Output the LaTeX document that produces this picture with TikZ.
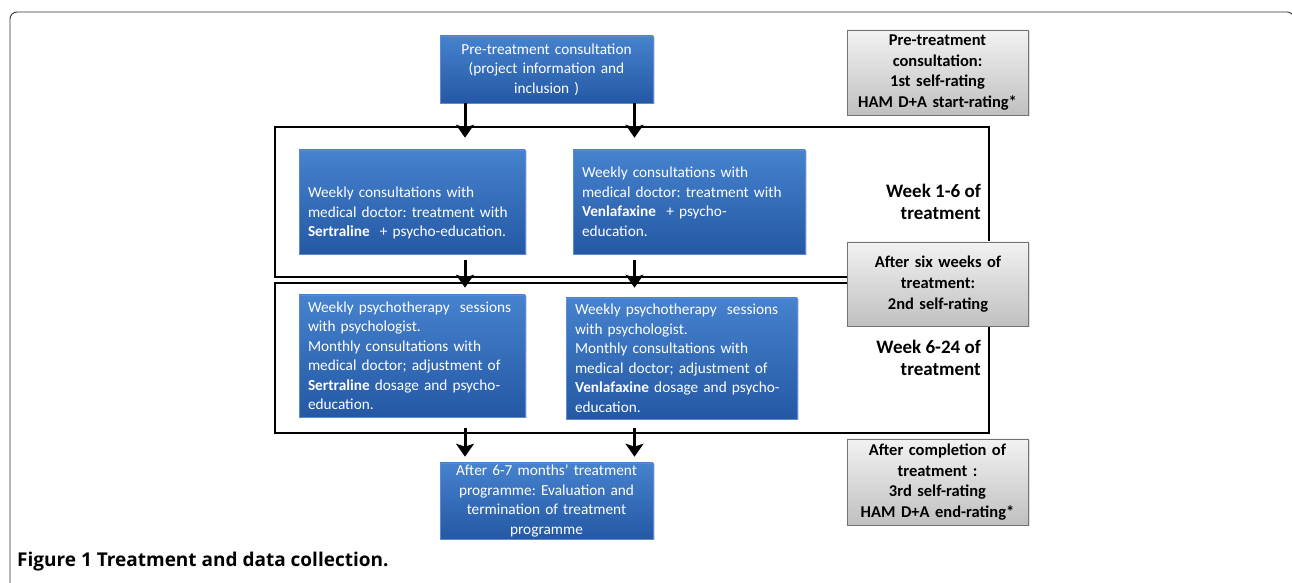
\documentclass[tikz,border=0pt]{standalone}
\usepackage{fontspec}
\setmainfont{Carlito}
\newfontfamily\captionfont{Open Sans}
\usepackage{tikz}
\usetikzlibrary{arrows.meta, shadows}
\definecolor{blueTop}{RGB}{70,130,206}
\definecolor{blueBot}{RGB}{36,88,164}
\definecolor{blueEdge}{RGB}{92,140,205}
\definecolor{grayTop}{RGB}{242,242,242}
\definecolor{grayBot}{RGB}{192,192,192}
\definecolor{grayEdge}{RGB}{115,115,115}
\frenchspacing
\tikzset{bluebox/.style={draw=blueEdge, line width=0.6pt, top color=blueTop, bottom color=blueBot, text=white,
            font=\fontsize{15.3}{19.5}\selectfont, inner xsep=9pt, inner ysep=1pt,
            drop shadow={opacity=0.3, shadow xshift=1.5pt, shadow yshift=-1.5pt}},
         graybox/.style={draw=grayEdge, line width=0.8pt, top color=grayTop, bottom color=grayBot, text=black,
            font=\bfseries\fontsize{16.5}{20.7}\selectfont, align=center, text width=175pt, inner xsep=3pt, inner ysep=1pt,
            drop shadow={opacity=0.25, shadow xshift=1.5pt, shadow yshift=-1.5pt}},
         phasebox/.style={draw=black, line width=1.8pt, minimum width=714pt, minimum height=150pt},
         weeklabel/.style={font=\bfseries\fontsize{19}{22}\selectfont, align=right, inner sep=0pt, anchor=east},
         flowarrow/.style={line width=3pt, -{Stealth[length=13pt, width=18pt, inset=3pt]}}}
\begin{document}
\begin{tikzpicture}[x=1pt,y=1pt]
                      \useasboundingbox (0,0) rectangle (1292,583);
                      \begin{scope}
                      \clip (0,0) rectangle (1292,583);
                      \draw[black!80, line width=0.9pt, rounded corners=7pt] (10,-40) rectangle (1294,571);
                      \end{scope}

                      \node[phasebox] (phaseone) at (632,381) {};
                      \node[phasebox] (phasetwo) at (632,225) {};

                      \node[graybox, minimum height=85pt] (ratingone) at (937.5,510.5) {Pre-treatment\\consultation:\\1st self-rating\\HAM D+A start-rating*};
                      \node[graybox, minimum height=84pt] (ratingtwo) at (938,299) {After six weeks of\\treatment:\\2nd self-rating};
                      \node[graybox, minimum height=86pt] (ratingthree) at (937.5,101) {After completion of\\treatment :\\3rd self-rating\\HAM D+A end-rating*};

                      \node[weeklabel] (weekone) at (981,381) {Week 1-6 of\\treatment};
                      \node[weeklabel] (weektwo) at (981,225) {Week 6-24 of\\treatment};

                      \node[bluebox, align=center, text width=195pt, minimum height=67pt] (pretreat) at (546.5,513.5) {Pre-treatment consultation\\(project information and\\inclusion )};
                      \node[bluebox, align=left, text width=208pt, minimum height=104pt] (sertone) at (412,381) {\strut\\Weekly consultations with\\medical doctor: treatment with\\\textbf{Sertraline}\ \ + psycho-education.};
                      \node[bluebox, align=left, text width=214pt, minimum height=104pt] (venlone) at (689,381) {Weekly consultations with\\medical doctor: treatment with\\\textbf{Venlafaxine}\ \ + psycho-\\education.};
                      \node[bluebox, align=left, text width=208pt, minimum height=122pt] (serttwo) at (412,227) {Weekly psychotherapy\ \ sessions\\with psychologist.\\Monthly consultations with\\medical doctor; adjustment of\\\textbf{Sertraline} dosage and psycho-\\education.};
                      \node[bluebox, align=left, text width=213pt, minimum height=121pt] (venltwo) at (681.5,224.5) {Weekly psychotherapy\ \ sessions\\with psychologist.\\Monthly consultations with\\medical doctor; adjustment of\\\textbf{Venlafaxine} dosage and psycho-\\education.};
                      \node[bluebox, align=center, text width=195pt, minimum height=76pt] (evaluation) at (546.5,82) {After 6-7 months’ treatment\\programme: Evaluation and\\termination of treatment\\programme};

                      \coordinate (leftcol) at (465,0);
                      \coordinate (rightcol) at (634.5,0);
                      \draw[flowarrow, shorten >=12pt] (pretreat.south -| leftcol) -- (sertone.north -| leftcol);
                      \draw[flowarrow, shorten >=12pt] (pretreat.south -| rightcol) -- (venlone.north -| rightcol);
                      \draw[flowarrow, shorten <=6pt, shorten >=7pt] (sertone.south -| leftcol) -- (serttwo.north -| leftcol);
                      \draw[flowarrow, shorten <=6pt, shorten >=10pt] (venlone.south -| rightcol) -- (venltwo.north -| rightcol);
                      \draw[flowarrow, shorten <=11pt, shorten >=6pt] (serttwo.south -| leftcol) -- (evaluation.north -| leftcol);
                      \draw[flowarrow, shorten <=9pt, shorten >=6pt] (venltwo.south -| rightcol) -- (evaluation.north -| rightcol);

                      \node[anchor=base west, inner sep=0pt, font=\captionfont\bfseries\fontsize{19}{22}\selectfont] (caption) at (17,16) {Figure 1 Treatment and data collection.};
             \end{tikzpicture}
\end{document}
